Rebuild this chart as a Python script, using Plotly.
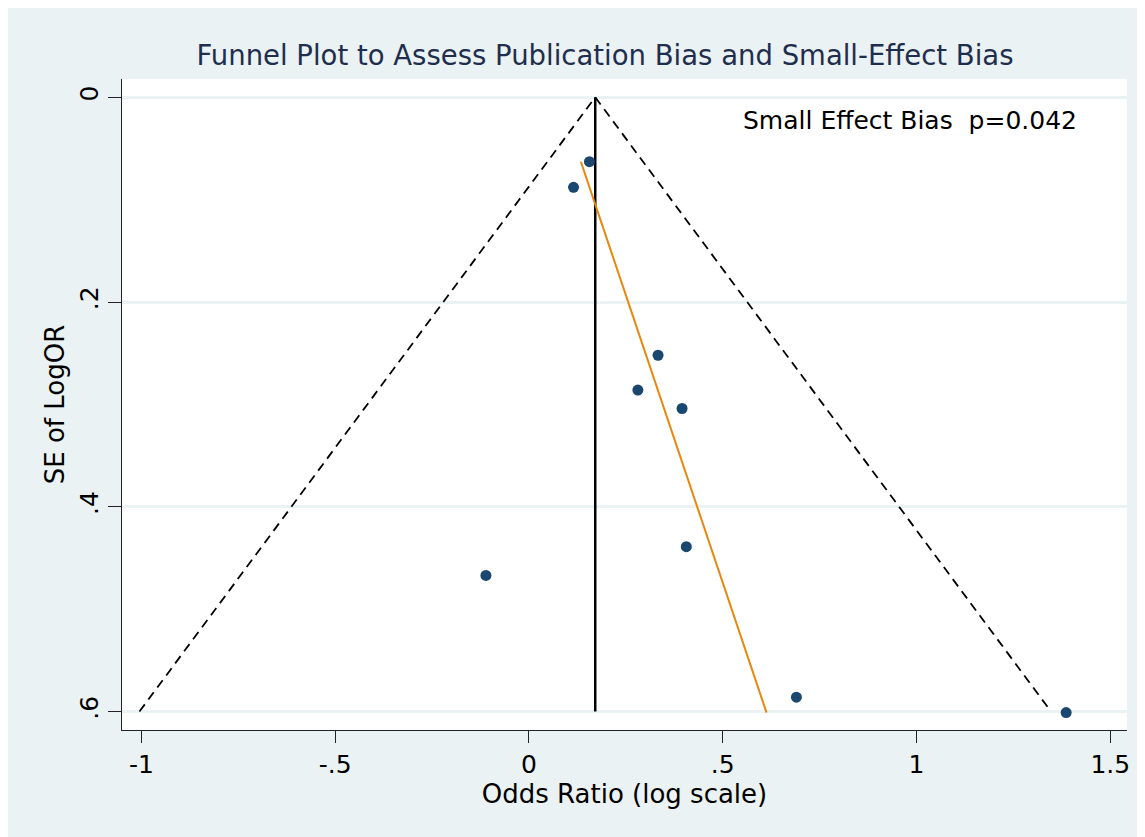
import plotly.graph_objects as go

# Study estimates (log odds ratio) and their standard errors
log_or = [0.156, 0.115, 0.333, 0.281, 0.395, 0.406, -0.111, 0.690, 1.386]
se_log_or = [0.063, 0.088, 0.252, 0.286, 0.304, 0.439, 0.467, 0.586, 0.601]

# Pooled estimate line
pooled_x = [0.171, 0.171]
pooled_y = [0.0, 0.6]

# Pseudo 95% confidence funnel
funnel_x = [-1.005, 0.171, 1.347]
funnel_y = [0.6, 0.0, 0.6]

# Small-effect (Egger) regression line
egger_x = [0.134, 0.613]
egger_y = [0.063, 0.601]

x_ticks = [-1, -0.5, 0, 0.5, 1, 1.5]
x_tick_text = ["-1", "-.5", "0", ".5", "1", "1.5"]
y_ticks = [0, 0.2, 0.4, 0.6]
y_tick_text = ["0", ".2", ".4", ".6"]

FONT = "DejaVu Sans, Liberation Sans, Arial, sans-serif"

fig = go.Figure()
fig.add_trace(go.Scatter(x=funnel_x, y=funnel_y, mode="lines",
                         line=dict(color="black", width=1.8, dash="9px,6px"),
                         showlegend=False, hoverinfo="skip"))
fig.add_trace(go.Scatter(x=pooled_x, y=pooled_y, mode="lines",
                         line=dict(color="black", width=2.5),
                         showlegend=False, hoverinfo="skip"))
fig.add_trace(go.Scatter(x=egger_x, y=egger_y, mode="lines",
                         line=dict(color="#E8860E", width=2),
                         showlegend=False, hoverinfo="skip"))
fig.add_trace(go.Scatter(x=log_or, y=se_log_or, mode="markers",
                         marker=dict(color="#1A476F", size=11),
                         showlegend=False))

fig.add_annotation(x=0.5476, y=0.0225, xref="x", yref="y",
                   text="Small Effect Bias  p=0.042", showarrow=False,
                   xanchor="left", yanchor="middle",
                   font=dict(family=FONT, size=25, color="black"))

fig.update_layout(
    width=1145, height=837,
    margin=dict(l=114, r=26, t=71, b=115),
    paper_bgcolor="#EAF2F3",
    plot_bgcolor="white",
    font=dict(family=FONT, size=24, color="black"),
    title=dict(text="Funnel Plot to Assess Publication Bias and Small-Effect Bias",
               x=597 / 1145, xref="container", xanchor="center",
               y=1 - 47 / 837, yref="container", yanchor="middle",
               font=dict(family=FONT, size=27.5, color="#1F2E4E")),
    showlegend=False,
)
fig.update_xaxes(
    range=[-1.05, 1.543], tickvals=x_ticks, ticktext=x_tick_text,
    showgrid=False, zeroline=False,
    showline=True, linecolor="#222222", linewidth=1.3,
    ticks="outside", ticklen=12, tickwidth=1.3, tickcolor="#222222",
    tickfont=dict(family=FONT, size=25, color="black"),
    title=dict(text="Odds Ratio (log scale)", standoff=3,
               font=dict(family=FONT, size=26, color="black")),
)
fig.update_yaxes(
    range=[0.618, -0.0178], tickvals=y_ticks, ticktext=y_tick_text,
    showgrid=True, gridcolor="#EAF2F3", gridwidth=2.5, zeroline=False,
    showline=True, linecolor="#222222", linewidth=1.3,
    ticks="outside", ticklen=13, tickwidth=1.3, tickcolor="#222222",
    tickangle=-90,
    tickfont=dict(family=FONT, size=25, color="black"),
    title=dict(text="SE of LogOR", standoff=2,
               font=dict(family=FONT, size=26, color="black")),
)

fig.write_html("out.html")
